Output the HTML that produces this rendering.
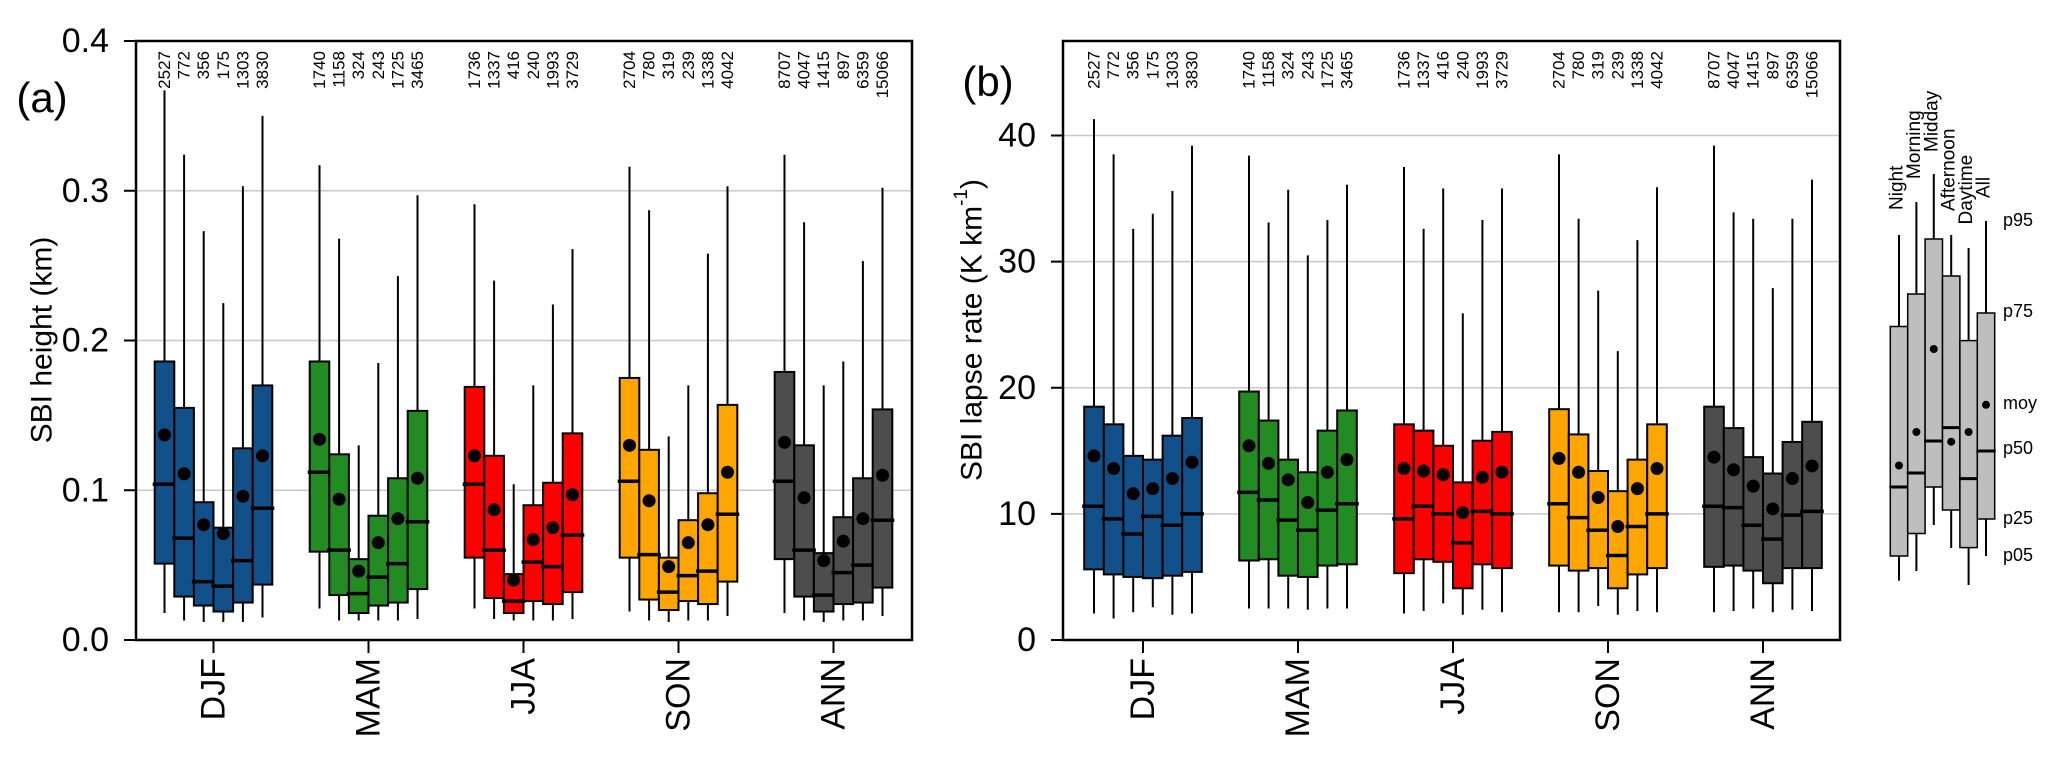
<!DOCTYPE html>
<html><head><meta charset="utf-8">
<style>
html,body{margin:0;padding:0;background:#fff;}
svg{display:block;font-family:"Liberation Sans",Arial,sans-serif;}
</style></head>
<body>
<svg id="chart" width="2067" height="762" viewBox="0 0 2067 762" xmlns="http://www.w3.org/2000/svg"></svg>
<script>
// ---------- data ----------
const seasons = ["DJF","MAM","JJA","SON","ANN"];
const periods = ["Night","Morning","Midday","Afternoon","Daytime","All"];
const seasonColors = ["#12508a","#228b22","#ff0000","#ffa500","#4d4d4d"];
const counts = [
  [2527,772,356,175,1303,3830],
  [1740,1158,324,243,1725,3465],
  [1736,1337,416,240,1993,3729],
  [2704,780,319,239,1338,4042],
  [8707,4047,1415,897,6359,15066]];
// panel a: SBI height (km)
const hP05 = [[0.018,0.013,0.012,0.012,0.012,0.015],[0.021,0.013,0.013,0.013,0.013,0.014],[0.021,0.014,0.013,0.013,0.013,0.014],[0.019,0.013,0.012,0.013,0.013,0.016],[0.018,0.013,0.012,0.013,0.013,0.016]];
const hP25 = [[0.051,0.029,0.023,0.019,0.025,0.037],[0.059,0.030,0.018,0.023,0.025,0.034],[0.055,0.028,0.018,0.026,0.024,0.032],[0.055,0.027,0.020,0.026,0.024,0.039],[0.054,0.029,0.019,0.024,0.025,0.035]];
const hP50 = [[0.104,0.068,0.039,0.036,0.053,0.088],[0.112,0.060,0.031,0.042,0.051,0.079],[0.104,0.060,0.026,0.052,0.049,0.070],[0.106,0.057,0.032,0.043,0.046,0.084],[0.106,0.060,0.030,0.045,0.050,0.080]];
const hP75 = [[0.186,0.155,0.092,0.075,0.128,0.170],[0.186,0.124,0.054,0.083,0.108,0.153],[0.169,0.123,0.044,0.090,0.105,0.138],[0.175,0.127,0.055,0.080,0.098,0.157],[0.179,0.130,0.058,0.082,0.108,0.154]];
const hP95 = [[0.367,0.324,0.273,0.225,0.303,0.350],[0.317,0.268,0.130,0.185,0.243,0.297],[0.291,0.240,0.104,0.170,0.224,0.261],[0.316,0.287,0.136,0.170,0.258,0.303],[0.324,0.279,0.170,0.186,0.253,0.302]];
const hMean = [[0.137,0.111,0.077,0.071,0.096,0.123],[0.134,0.094,0.046,0.065,0.081,0.108],[0.123,0.087,0.040,0.067,0.075,0.097],[0.130,0.093,0.049,0.065,0.077,0.112],[0.132,0.095,0.053,0.066,0.081,0.110]];
const hTicks = ["0.0","0.1","0.2","0.3","0.4"];
const hTickVals = [0,0.1,0.2,0.3,0.4];
// panel b: SBI lapse rate (K/km)
const lP05 = [[2.1,1.7,2.2,2.6,2.0,2.1],[2.5,2.5,2.5,2.4,2.5,2.5],[2.1,2.3,2.9,2.0,2.4,2.2],[2.2,2.2,2.7,2.0,2.3,2.2],[2.2,2.3,2.5,2.2,2.4,2.3]];
const lP25 = [[5.6,5.2,5.0,4.9,5.1,5.4],[6.3,6.4,5.1,5.0,5.9,6.0],[5.3,6.4,6.2,4.1,6.0,5.7],[5.9,5.5,5.7,4.1,5.2,5.7],[5.8,5.9,5.5,4.5,5.7,5.7]];
const lP50 = [[10.6,9.6,8.4,9.8,9.1,10.0],[11.7,11.1,9.5,8.7,10.3,10.8],[9.6,10.6,10.0,7.7,10.2,10.0],[10.8,9.7,8.7,6.7,9.0,10.0],[10.6,10.5,9.1,8.0,9.9,10.2]];
const lP75 = [[18.5,17.1,14.6,14.3,16.2,17.6],[19.7,17.4,14.3,13.3,16.6,18.2],[17.1,16.6,15.4,12.5,15.8,16.5],[18.3,16.3,13.4,11.8,14.3,17.1],[18.5,16.8,14.5,13.2,15.7,17.3]];
const lP95 = [[41.3,38.5,32.6,33.8,35.6,39.2],[38.4,33.1,35.7,30.5,33.3,36.1],[37.5,32.6,35.8,25.9,33.3,35.8],[38.5,33.4,27.7,22.9,31.7,35.9],[39.2,33.9,33.4,27.9,33.4,36.5]];
const lMean = [[14.6,13.6,11.6,12.0,12.8,14.1],[15.4,14.0,12.7,10.9,13.3,14.3],[13.6,13.4,13.1,10.1,12.9,13.3],[14.4,13.3,11.3,9.0,12.0,13.6],[14.5,13.5,12.2,10.4,12.8,13.8]];
const lTicks = ["0","10","20","30","40"];
const lTickVals = [0,10,20,30,40];
// legend schematic (pixel-free relative values)
const legP05 = [580.6,571,525,548,585,556];
const legP25 = [556,533.5,487,510,547.6,519];
const legP50 = [487,473,441,427.6,478.6,451];
const legP75 = [326.5,294,239,276,340.6,313];
const legP95 = [235,202,174,235,248,221];
const legMean = [465.5,432,349,441.7,432,404.8];
const legKeys = ["p95","p75","moy","p50","p25","p05"];
const legKeyY = [220,311,403,448,518,555];

// ---------- drawing ----------
const svg = document.getElementById('chart');
const NS = "http://www.w3.org/2000/svg";
function mk(tag, attrs, parent){
  const e = document.createElementNS(NS, tag);
  for (const k in attrs) e.setAttribute(k, attrs[k]);
  (parent||svg).appendChild(e);
  return e;
}
const Y0 = 640, YTOP = 41;
const BW = 19.6;

function panel(opt){
  const g = mk('g',{});
  
  
  const L = opt.left, R = opt.right;
  const yS = v => Y0 - (v/opt.max)*(Y0-YTOP);
  const xS = (si, bi) => opt.c0 + si*155 + (bi-2.5)*BW;
  // gridlines
  opt.tickVals.forEach((v,i)=>{
    if (v>0 && yS(v) > YTOP+1){
      const gl = mk('line',{x1:L,x2:R,y1:yS(v),y2:yS(v),stroke:'#c8c8c8','stroke-width':1.5},g);
      
      
    }
    const t = mk('line',{x1:L-12,x2:L,y1:yS(v),y2:yS(v),stroke:'#000','stroke-width':2},g);
    
    
    const tl = mk('text',{x:L-27,y:yS(v),'font-size':34,'text-anchor':'end','dominant-baseline':'central',fill:'#000'},g);
    tl.textContent = opt.ticks[i];
    
    
  });
  // boxes
  for (let s=0;s<5;s++){
    for (let b=0;b<6;b++){
      const cx = xS(s,b);
      const bg = mk('g',{},g);
      
      
      mk('line',{x1:cx,x2:cx,y1:yS(opt.p05[s][b]),y2:yS(opt.p95[s][b]),stroke:'#000','stroke-width':2},bg);
      mk('rect',{x:cx-BW/2,y:yS(opt.p75[s][b]),width:BW,height:yS(opt.p25[s][b])-yS(opt.p75[s][b]),fill:seasonColors[s],stroke:'#000','stroke-width':2},bg);
      mk('line',{x1:cx-BW/2-2,x2:cx+BW/2+2,y1:yS(opt.p50[s][b]),y2:yS(opt.p50[s][b]),stroke:'#000','stroke-width':3.5},bg);
      mk('circle',{cx:cx,cy:yS(opt.mean[s][b]),r:6.5,fill:'#000'},bg);
      const ct = mk('text',{transform:`translate(${cx},51) rotate(-90)`,'font-size':17,'text-anchor':'end','dominant-baseline':'central',fill:'#000'},g);
      ct.textContent = counts[s][b];
      
      
    }
    const cxs = opt.c0 + s*155;
    mk('line',{x1:cxs,x2:cxs,y1:Y0,y2:Y0+13,stroke:'#000','stroke-width':2},g);
    const cl = mk('text',{transform:`translate(${cxs},658) rotate(-90)`,'font-size':34,'text-anchor':'end','dominant-baseline':'central',fill:'#000'},g);
    cl.textContent = seasons[s];
    
    
  }
  const fr = mk('rect',{x:L,y:YTOP,width:R-L,height:Y0-YTOP,fill:'none',stroke:'#000','stroke-width':2.5},g);
  
  
}

panel({name:'panel-a',left:136,right:912,c0:213.5,max:0.4,p05:hP05,p25:hP25,p50:hP50,p75:hP75,p95:hP95,mean:hMean,ticks:hTicks,tickVals:hTickVals});
panel({name:'panel-b',left:1063,right:1840,c0:1143,max:40*(Y0-YTOP)/(Y0-135.5),p05:lP05,p25:lP25,p50:lP50,p75:lP75,p95:lP95,mean:lMean,ticks:lTicks,tickVals:lTickVals});

// titles
let t = mk('text',{transform:'translate(42,340) rotate(-90)','font-size':30,'text-anchor':'middle','dominant-baseline':'central'});
t.textContent = 'SBI height (km)';


t = mk('text',{transform:'translate(972,330) rotate(-90)','font-size':30,'text-anchor':'middle','dominant-baseline':'central'});
t.innerHTML = 'SBI lapse rate (K km<tspan baseline-shift="super" font-size="19">-1</tspan>)';


t = mk('text',{x:42,y:112,'font-size':42,'text-anchor':'middle'});
t.textContent = '(a)';


t = mk('text',{x:988,y:96,'font-size':42,'text-anchor':'middle'});
t.textContent = '(b)';



// legend
const lg = mk('g',{});


const LBW = 17.4, lx0 = 1899;
const labEnd = [210,179,152,211,224.5,198];
for (let i=0;i<6;i++){
  const cx = lx0 + i*LBW;
  const e = mk('g',{},lg);
  
  
  mk('line',{x1:cx,x2:cx,y1:legP05[i],y2:legP95[i],stroke:'#000','stroke-width':2},e);
  mk('rect',{x:cx-LBW/2,y:legP75[i],width:LBW,height:legP25[i]-legP75[i],fill:'#bebebe',stroke:'#000','stroke-width':1.5},e);
  mk('line',{x1:cx-LBW/2-1,x2:cx+LBW/2+1,y1:legP50[i],y2:legP50[i],stroke:'#000','stroke-width':3},e);
  mk('circle',{cx:cx,cy:legMean[i],r:4,fill:'#000'},e);
  const lt = mk('text',{transform:`translate(${cx-2},${labEnd[i]}) rotate(-90)`,'font-size':19,'text-anchor':'start','dominant-baseline':'central'},lg);
  lt.textContent = periods[i];
  
  
}
for (let i=0;i<legKeys.length;i++){
  const k = mk('text',{x:2003,y:legKeyY[i],'font-size':18,'dominant-baseline':'central'},lg);
  k.textContent = legKeys[i];
  
  
}
</script>
</body></html>
